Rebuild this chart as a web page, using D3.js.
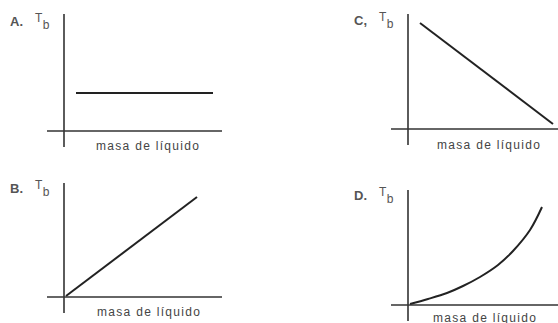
<!DOCTYPE html>
<html>
<head>
<meta charset="utf-8">
<script src="https://cdn.jsdelivr.net/npm/d3@7"></script>
<style>
  body { margin: 0; background: #fff; }
  text { font-family: "Liberation Sans", Arial, sans-serif; fill: #444; }
</style>
</head>
<body>
<div id="chart"></div>
<script>
const svgWidth = 558;
const svgHeight = 323;

// data (arbitrary units)
const panelKeys = ["A", "B", "C", "D"];
const yLabel = "T";
const ySub = "b";
const xLabel = "masa de líquido";
const seriesA = [[12, 38], [149, 38]];
const seriesB = [[2, 1], [133, 100]];
const seriesC = [[12, 106], [145, 5]];
const seriesD = [[2, 1], [20, 6], [39, 12], [55, 19], [72, 28], [90, 40], [105, 54], [122, 75], [134, 98]];
const allSeries = [seriesA, seriesB, seriesC, seriesD];

// layout of each small panel (axis origin in px)
const layout = [
  { ox: 64, oy: 131, top: 117, labelY: 26, textY: 150, textX: 96 },
  { ox: 64, oy: 297, top: 114, labelY: 193, textY: 316, textX: 97 },
  { ox: 408, oy: 129, top: 115, labelY: 25, textY: 149, textX: 437 },
  { ox: 408, oy: 305, top: 115, labelY: 200, textY: 322, textX: 433 }
];

const svg = d3.select("#chart")
  .append("svg")
  .attr("width", svgWidth)
  .attr("height", svgHeight);

panelKeys.forEach((key, i) => {
  const L = layout[i];
  const x = d3.scaleLinear().domain([0, 150]).range([L.ox, L.ox + 150]);
  const y = d3.scaleLinear().domain([0, 120]).range([L.oy, L.oy - 120]);
  const g = svg.append("g");

  // axes
  g.append("line")
    .attr("x1", x(0)).attr("x2", x(0))
    .attr("y1", y(-16)).attr("y2", y(L.top))
    .attr("stroke", "#333").attr("stroke-width", 1.6);
  g.append("line")
    .attr("x1", x(-17)).attr("x2", x(158))
    .attr("y1", y(0)).attr("y2", y(0))
    .attr("stroke", "#333").attr("stroke-width", 1.6);

  // curve
  const line = d3.line()
    .x(d => x(d[0]))
    .y(d => y(d[1]))
    .curve(i === 3 ? d3.curveCatmullRom : d3.curveLinear);
  g.append("path")
    .datum(allSeries[i])
    .attr("d", line)
    .attr("fill", "none")
    .attr("stroke", "#222")
    .attr("stroke-width", 2);

  // panel label "A.  T_b"
  g.append("text")
    .attr("x", L.ox - 54)
    .attr("y", L.labelY)
    .attr("font-size", 13)
    .attr("font-weight", "bold")
    .style("fill", "#555")
    .text(key + (key === "C" ? "," : "."));
  const t = g.append("text")
    .attr("x", L.ox - 29)
    .attr("y", L.labelY - 4)
    .attr("font-size", 12)
    .style("fill", "#555");
  t.append("tspan").text(yLabel);
  t.append("tspan").attr("dy", 7).attr("dx", 0.5).text(ySub);

  // x label
  g.append("text")
    .attr("x", L.textX)
    .attr("y", L.textY)
    .attr("font-size", 12)
    .attr("letter-spacing", 1.3)
    .text(xLabel);
});
</script>
</body>
</html>
